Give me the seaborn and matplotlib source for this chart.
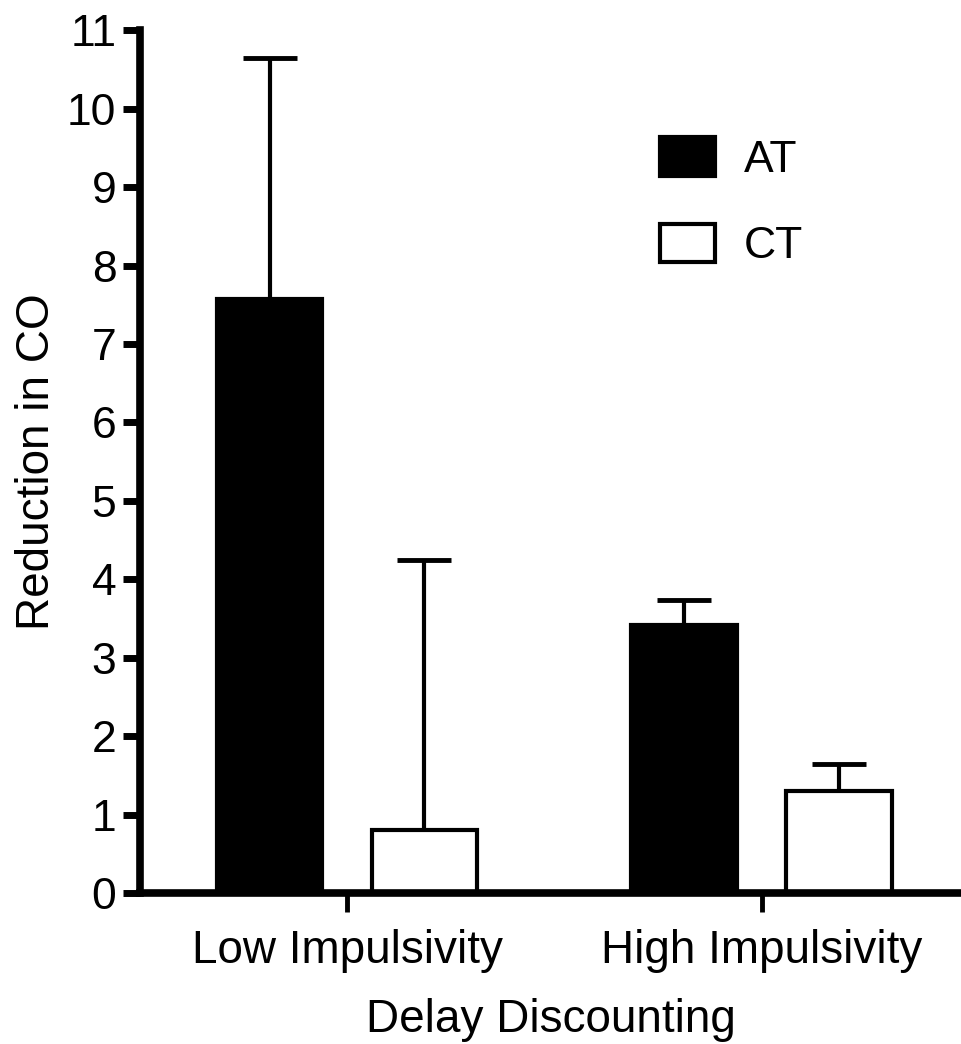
import numpy as np
import pandas as pd
import matplotlib
matplotlib.use("Agg")
import matplotlib.pyplot as plt
import seaborn as sns

groups = ["Low Impulsivity", "High Impulsivity"]
conditions = ["AT", "CT"]
at_means = [7.58, 3.42]
ct_means = [0.80, 1.30]
at_err = [3.07, 0.31]
ct_err = [3.45, 0.35]

sns.set_style("ticks")
plt.rcParams["font.family"] = ["Liberation Sans", "DejaVu Sans"]
plt.rcParams.update({"text.color": "black", "axes.labelcolor": "black",
                     "xtick.color": "black", "ytick.color": "black",
                     "axes.edgecolor": "black"})

df = pd.DataFrame({
    "group": groups * 2,
    "condition": ["AT"] * 2 + ["CT"] * 2,
    "value": at_means + ct_means,
})
errs = {"AT": at_err, "CT": ct_err}

fig = plt.figure(figsize=(9.61, 10.44), dpi=100)
ax = fig.add_axes([0.1457, 0.1446, 0.8543, 0.8264])

sns.barplot(data=df, x="group", y="value", hue="condition",
            order=groups, hue_order=conditions,
            palette={"AT": "black", "CT": "white"},
            edgecolor="black", linewidth=3, width=0.747, gap=0.317,
            errorbar=None, ax=ax, zorder=2)

# upward-only error bars placed from the drawn bars
for cont, cond in zip(ax.containers, conditions):
    xs = [b.get_x() + b.get_width() / 2 for b in cont]
    ys = [b.get_height() for b in cont]
    ax.errorbar(xs, ys, yerr=[np.zeros(len(ys)), errs[cond]], fmt="none",
                ecolor="black", elinewidth=3, capsize=19.5, capthick=3.5,
                zorder=1)

ax.set_ylim(0, 11)
ax.set_xlim(-0.499, 1.48)
ax.set_yticks(range(0, 12))
ax.set_ylabel("Reduction in CO", fontsize=33, labelpad=6)
ax.set_xlabel("Delay Discounting", fontsize=33, labelpad=18)

sns.despine(ax=ax)
for s in ["left", "bottom"]:
    ax.spines[s].set_linewidth(5.5)
ax.tick_params(axis="y", length=12, width=5, labelsize=32, pad=5)
ax.tick_params(axis="x", length=14, width=3.5, labelsize=33, pad=12)

handles, labels = ax.get_legend_handles_labels()
ax.legend(handles, labels, loc="upper left", bbox_to_anchor=(0.633, 0.876),
          frameon=False, fontsize=32, handlelength=1.25, handleheight=0.95,
          labelspacing=0.97, handletextpad=0.65, borderpad=0, borderaxespad=0)

fig.savefig("out.png", dpi=100, facecolor="white")
